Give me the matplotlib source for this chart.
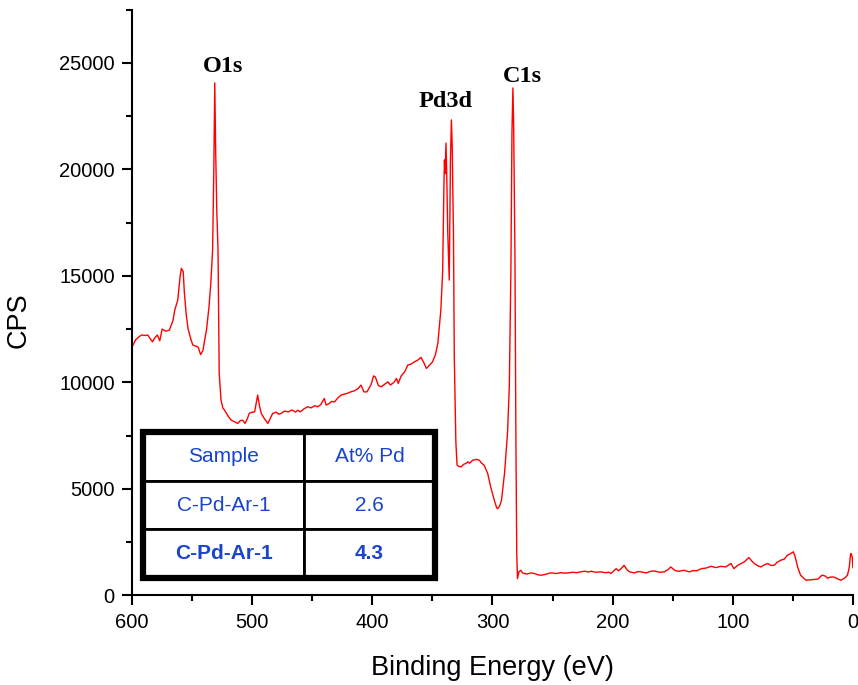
import matplotlib
matplotlib.use("Agg")
import matplotlib.pyplot as plt
from matplotlib.patches import Rectangle
from matplotlib.ticker import MultipleLocator

# survey spectrum (binding energy eV, CPS)
energy = [600, 597, 594, 592, 589, 587, 585, 583, 581, 579, 577, 575, 572, 569, 566, 564.5, 562, 560, 559,
          557.5, 556.5, 555, 553.5, 551, 549.5, 547, 545, 543, 541, 540, 538, 536, 534.5, 533, 532, 531.2,
          530.5, 529.5, 528.5, 527.5, 526, 524.5, 523, 520, 517.5, 515, 512, 510, 508, 506, 504, 502.5, 500,
          498, 496.5, 495.5, 494, 492.5, 490, 487, 485, 483, 480, 478, 476, 473, 470, 467, 464, 462, 460, 457,
          454, 451, 448, 445.5, 443, 440, 438.5, 436, 434, 431.5, 429, 426, 423, 420, 418, 415, 412, 409.5,
          407, 404.5, 401, 399, 397.5, 395, 392.5, 390, 387, 385, 382, 380, 378.5, 376, 373, 370.5, 368, 365,
          362, 359.5, 357, 355, 352.5, 350, 347.5, 345.5, 343, 341.5, 340.5, 340, 339.5, 338.7, 338, 337.3,
          336, 335.5, 335, 334.2, 333.5, 332.5, 331.8, 330.5, 329.5, 328, 326, 324, 322, 320.5, 319, 316.5,
          313, 311, 309, 307, 304, 301.5, 298.5, 296.5, 295.5, 294, 292.5, 290, 287.5, 286, 284.7, 283.8, 283,
          282.4, 281.3, 280.5, 279.8, 279.2, 278, 276.5, 275, 273.5, 271, 268, 265, 262, 259.5, 256, 253, 251,
          247, 243, 240, 237, 233, 230, 226.5, 223, 220, 218, 214, 210, 206, 203, 201.5, 199, 197, 195, 192,
          190.5, 188, 186, 182, 179, 176.5, 172, 168, 165, 161, 157, 154, 151.5, 149, 147, 144, 140.5, 138,
          136, 133, 130, 126, 122, 118, 114, 110, 106, 103, 101.5, 99, 96, 93, 90, 88, 86.5, 84, 82, 79, 76.5,
          74, 71, 68, 65.5, 63, 60, 57, 54.5, 52, 49.5, 48, 46, 43.5, 40, 39, 36, 32, 29, 26, 25, 23, 21, 19,
          16, 13, 10, 7, 4.5, 3, 2, 1.5, 0.5, 0]
cps = [11670, 12000, 12150, 12220, 12200, 12220, 12050, 11900, 12100, 12220, 11950, 12500, 12400, 12450,
       12900, 13400, 13860, 15000, 15350, 15200, 14200, 13200, 12530, 12000, 11750, 11700, 11650, 11300,
       11500, 11850, 12500, 13550, 14650, 16200, 20000, 24060, 21000, 18000, 16200, 10420, 9160, 8800, 8690,
       8400, 8220, 8150, 8070, 8200, 8220, 8070, 8300, 8540, 8600, 8610, 9100, 9400, 8900, 8540, 8300, 8070,
       8300, 8540, 8600, 8500, 8540, 8650, 8610, 8700, 8600, 8690, 8610, 8750, 8850, 8800, 8900, 8850, 8950,
       9240, 8930, 9000, 9100, 9080, 9250, 9400, 9450, 9500, 9550, 9600, 9700, 9870, 9550, 9550, 9900, 10300,
       10250, 9850, 9790, 9900, 10020, 9870, 10000, 10180, 9950, 10300, 10500, 10810, 10850, 10960, 11050,
       11170, 10900, 10650, 10800, 10950, 11300, 11830, 13390, 15190, 19000, 20440, 19800, 21230, 19500,
       17150, 14800, 17500, 20440, 22320, 21000, 17000, 11200, 7200, 6110, 6050, 6030, 6150, 6190, 6270,
       6200, 6340, 6380, 6340, 6200, 6110, 5720, 5090, 4460, 4100, 4070, 4200, 4460, 5720, 7600, 9790, 15120,
       21700, 23820, 22170, 15900, 7200, 1960, 785, 1100, 1175, 1050, 1020, 1000, 1050, 1020, 960, 940, 980,
       1030, 1050, 1020, 1060, 1040, 1050, 1080, 1060, 1100, 1130, 1090, 1130, 1080, 1100, 1060, 1080, 1020,
       1150, 1250, 1150, 1300, 1410, 1200, 1100, 1050, 1110, 1100, 1050, 1130, 1140, 1080, 1100, 1200, 1330,
       1200, 1140, 1130, 1175, 1130, 1100, 1160, 1150, 1250, 1280, 1360, 1300, 1360, 1330, 1440, 1490, 1250,
       1400, 1490, 1580, 1700, 1770, 1600, 1490, 1380, 1330, 1420, 1490, 1400, 1410, 1550, 1645, 1700, 1880,
       1950, 2040, 1800, 1330, 940, 760, 705, 720, 740, 760, 930, 940, 900, 800, 850, 860, 780, 705, 800, 940,
       1300, 1900, 1960, 1800, 1300]

peak_labels = ["O1s", "Pd3d", "C1s"]
peak_pos = [(524, 24820), (339, 23170), (275, 24350)]

table_header = ["Sample", "At% Pd"]
table_rows = [["C-Pd-Ar-1", "2.6"], ["C-Pd-Ar-1", "4.3"]]

plt.rcParams['font.family'] = ['Liberation Sans', 'DejaVu Sans']

fig = plt.figure(figsize=(8.58, 6.85), dpi=100)
ax = fig.add_axes([0.154, 0.131, 0.840, 0.855])

ax.plot(energy, cps, color='#ff0000', linewidth=1.0)

ax.set_xlim(600, 0)
ax.set_ylim(0, 27500)
ax.xaxis.set_major_locator(MultipleLocator(100))
ax.xaxis.set_minor_locator(MultipleLocator(50))
ax.yaxis.set_major_locator(MultipleLocator(5000))
ax.yaxis.set_minor_locator(MultipleLocator(2500))
ax.tick_params(which='major', direction='out', length=7.5, width=1.5, labelsize=14.5, pad=5)
ax.tick_params(which='minor', direction='out', length=4, width=1.5)
for side in ['top', 'right']:
    ax.spines[side].set_visible(False)
for side in ['left', 'bottom']:
    ax.spines[side].set_linewidth(1.5)

ax.set_xlabel('Binding Energy (eV)', fontsize=19.5, va='center')
ax.set_ylabel('CPS', fontsize=19.5, va='center')
ax.xaxis.set_label_coords(0.5, -0.125)
ax.yaxis.set_label_coords(-0.158, 0.47)

for lab, (x, y) in zip(peak_labels, peak_pos):
    ax.text(x, y, lab, ha='center', va='center', fontsize=17.5, fontweight='bold',
            family=['Liberation Serif', 'DejaVu Serif'])

# 組成テーブル
blue = '#1a44cc'
tbl = ax.table(cellText=table_rows, colLabels=table_header, cellLoc='center',
               colWidths=[0.551, 0.449], bbox=[0.0153, 0.029, 0.405, 0.25])
tbl.auto_set_font_size(False)
for (r, c), cell in tbl.get_celld().items():
    cell.set_linewidth(2)
    cell.set_edgecolor('black')
    cell.set_facecolor('white')
    txt = cell.get_text()
    txt.set_color(blue)
    txt.set_fontsize(15)
    if r == 2:
        txt.set_fontweight('bold')
tbl.set_zorder(5)
ax.add_patch(Rectangle((0.0153, 0.029), 0.405, 0.25, transform=ax.transAxes,
                       fill=False, edgecolor='black', linewidth=4.5, zorder=6, clip_on=False))

fig.savefig('out.png', dpi=100)
